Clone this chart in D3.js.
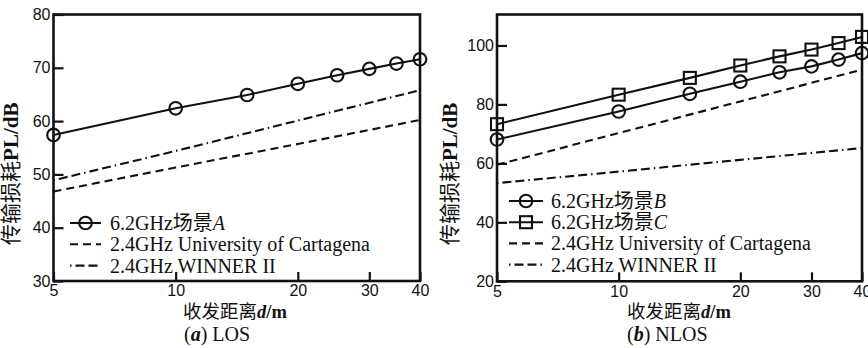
<!DOCTYPE html>
<html>
<head>
<meta charset="utf-8">
<script src="https://cdn.jsdelivr.net/npm/d3@7"></script>
<style>
  html, body { margin: 0; padding: 0; background: #fff; }
  svg { display: block; }
  .tick text { font-family: "Liberation Sans", Arial, sans-serif; font-size: 16px; fill: #111; }
</style>
</head>
<body>
<svg id="chart" width="868" height="348"></svg>
<script>
// ---------------- data ----------------
const distances = [5, 10, 15, 20, 25, 30, 35, 40];
const losA = [57.4, 62.4, 64.9, 67.0, 68.6, 69.8, 70.8, 71.6];
const nlosB = [68.1, 77.6, 83.6, 87.7, 90.9, 92.9, 95.2, 97.4];
const nlosC = [73.3, 83.3, 89.0, 93.2, 96.3, 98.6, 100.8, 102.9];

const refDist = [5, 10, 20, 40];
const losCartagena = [46.8, 51.3, 55.7, 60.2];
const losWinner = [48.9, 54.4, 60.1, 65.8];
const nlosCartagena = [59.5, 70.3, 81.0, 91.8];
const nlosWinner = [53.3, 57.2, 61.2, 65.2];

const xTicks = [5, 10, 20, 30, 40];
const losYTicks = [30, 40, 50, 60, 70, 80];
const nlosYTicks = [20, 40, 60, 80, 100];

const legendLOS = ["6.2GHz场景|A", "2.4GHz University of Cartagena", "2.4GHz WINNER II"];
const legendNLOS = ["6.2GHz场景|B", "6.2GHz场景|C", "2.4GHz University of Cartagena", "2.4GHz WINNER II"];
const panelTitles = ["a|LOS", "b|NLOS"];
const yTitle = ["传输损耗", "PL/dB"];
const xTitle = ["收发距离", "d", "/m"];

// ---------------- drawing ----------------
const svg = d3.select("#chart");
const serif = "'Liberation Serif', 'Times New Roman', 'Noto Sans CJK SC', serif";
const DASH = "8,5";
const DASHDOT = "1.5,4,9,4,9,4";

function pairs(xs, ys) { return xs.map((d, i) => ({ d, v: ys[i] })); }

function drawPanel(cfg) {
  const g = svg.append("g");
  const x = d3.scaleLog().domain([5, 40]).range([cfg.x0, cfg.x1]);
  const y = d3.scaleLinear().domain(cfg.yDomain).range([cfg.y1, cfg.y0]);

  // axes
  const xa = g.append("g").attr("transform", `translate(0,${cfg.y1})`)
    .call(d3.axisBottom(x).tickValues(xTicks).tickFormat(d3.format("d"))
      .tickSizeInner(-9).tickSizeOuter(0).tickPadding(4));
  xa.select(".domain").remove();
  xa.selectAll(".tick line").attr("stroke", "#111").attr("stroke-width", 2.2);

  const ya = g.append("g").attr("transform", `translate(${cfg.x0},0)`)
    .call(d3.axisLeft(y).tickValues(cfg.yTicks).tickFormat(d3.format("d"))
      .tickSizeInner(-10).tickSizeOuter(0).tickPadding(3));
  ya.select(".domain").remove();
  ya.selectAll(".tick line").attr("stroke", "#111").attr("stroke-width", 2.2);

  // frame
  g.append("rect").attr("x", cfg.x0).attr("y", cfg.y0)
    .attr("width", cfg.x1 - cfg.x0).attr("height", cfg.y1 - cfg.y0)
    .attr("fill", "none").attr("stroke", "#111").attr("stroke-width", 2.6);

  const line = d3.line().x(p => x(p.d)).y(p => y(p.v));

  cfg.series.forEach(s => {
    const pts = pairs(s.xs, s.ys);
    g.append("path").datum(pts).attr("d", line)
      .attr("fill", "none").attr("stroke", "#111").attr("stroke-width", 2.1)
      .attr("stroke-dasharray", s.dash || null);
    if (s.marker === "circle") {
      g.selectAll(null).data(pts).enter().append("circle")
        .attr("cx", p => x(p.d)).attr("cy", p => y(p.v)).attr("r", 6.3)
        .attr("fill", "none").attr("stroke", "#111").attr("stroke-width", 2.1);
    } else if (s.marker === "square") {
      g.selectAll(null).data(pts).enter().append("rect")
        .attr("x", p => x(p.d) - 6).attr("y", p => y(p.v) - 6)
        .attr("width", 12).attr("height", 12)
        .attr("fill", "none").attr("stroke", "#111").attr("stroke-width", 2.1);
    }
  });

  // legend
  cfg.legend.forEach((lab, i) => {
    const s = cfg.series[i];
    const ly = cfg.legY + i * cfg.legStep;
    const lg = g.append("g");
    lg.append("line").attr("x1", cfg.legX0).attr("x2", cfg.legX1)
      .attr("y1", ly).attr("y2", ly)
      .attr("stroke", "#111").attr("stroke-width", 2.1)
      .attr("stroke-dasharray", s.dash || null);
    const mx = (cfg.legX0 + cfg.legX1) / 2;
    if (s.marker === "circle") {
      lg.append("circle").attr("cx", mx).attr("cy", ly).attr("r", 6.3)
        .attr("fill", "none").attr("stroke", "#111").attr("stroke-width", 2.1);
    } else if (s.marker === "square") {
      lg.append("rect").attr("x", mx - 6).attr("y", ly - 6).attr("width", 12).attr("height", 12)
        .attr("fill", "none").attr("stroke", "#111").attr("stroke-width", 2.1);
    }
    const t = lg.append("text").attr("x", cfg.legText).attr("y", ly + 7)
      .attr("font-family", serif).attr("font-size", 20).attr("fill", "#111");
    const parts = lab.split("|");
    t.append("tspan").text(parts[0]);
    if (parts[1]) t.append("tspan").attr("font-style", "italic").text(parts[1]);
  });

  // y title
  const yt = g.append("text")
    .attr("transform", `translate(${cfg.yTitleX},${(cfg.y0 + cfg.y1) / 2 + 26}) rotate(-90)`)
    .attr("text-anchor", "middle").attr("font-family", serif).attr("font-size", 21)
    .attr("fill", "#111");
  yt.append("tspan").text(yTitle[0]);
  yt.append("tspan").attr("font-weight", "bold").text(yTitle[1]);

  // x title
  const xt = g.append("text").attr("x", cfg.xTitleX).attr("y", 318)
    .attr("font-family", serif).attr("font-size", 18.5).attr("fill", "#111");
  xt.append("tspan").text(xTitle[0]);
  xt.append("tspan").attr("font-weight", "bold").attr("font-style", "italic").text(xTitle[1]);
  xt.append("tspan").attr("font-weight", "bold").text(xTitle[2]);

  // panel caption
  const pp = cfg.caption.split("|");
  const ct = g.append("text").attr("x", cfg.capX).attr("y", 341)
    .attr("font-family", serif).attr("font-size", 20).attr("fill", "#111");
  ct.append("tspan").text("(");
  ct.append("tspan").attr("font-weight", "bold").attr("font-style", "italic").text(pp[0]);
  ct.append("tspan").text(") " + pp[1]);
}

drawPanel({
  x0: 53.5, x1: 420, y0: 14.5, y1: 281,
  yDomain: [30, 80], yTicks: losYTicks,
  series: [
    { xs: distances, ys: losA, marker: "circle" },
    { xs: refDist, ys: losCartagena, dash: DASH },
    { xs: refDist, ys: losWinner, dash: DASHDOT }
  ],
  legend: legendLOS, legY: 223, legStep: 21.3, legX0: 70, legX1: 101, legText: 110,
  yTitleX: 18, xTitleX: 183, capX: 184, caption: panelTitles[0]
});

drawPanel({
  x0: 497, x1: 862, y0: 14.5, y1: 281.3,
  yDomain: [20, 110.5], yTicks: nlosYTicks,
  series: [
    { xs: distances, ys: nlosB, marker: "circle" },
    { xs: distances, ys: nlosC, marker: "square" },
    { xs: refDist, ys: nlosCartagena, dash: DASH },
    { xs: refDist, ys: nlosWinner, dash: DASHDOT }
  ],
  legend: legendNLOS, legY: 201, legStep: 21.2, legX0: 509, legX1: 543, legText: 551,
  yTitleX: 457, xTitleX: 627, capX: 627, caption: panelTitles[1]
});
</script>
</body>
</html>
